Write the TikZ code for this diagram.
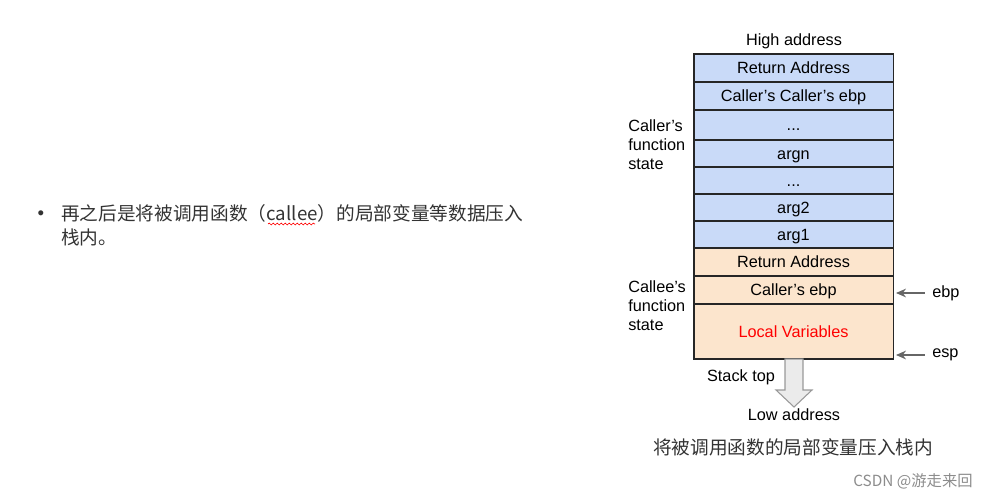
\documentclass[tikz,border=0pt]{standalone}
\usepackage{fontspec}
\setmainfont{Liberation Sans}
\newfontfamily\cjk{Noto Sans CJK SC}
\usetikzlibrary{arrows.meta,decorations.pathmorphing}

\definecolor{callerblue}{HTML}{C9DAF8}
\definecolor{calleeorange}{HTML}{FCE5CD}
\definecolor{textgray}{HTML}{333333}
\definecolor{arrowgray}{HTML}{666666}
\newcommand{\stackdots}{...}

\tikzset{
  cell/.style={draw=black!85, line width=1.1pt, inner sep=0pt,
    text height=8.7pt, text depth=0pt,
    minimum width=149.6pt, font=\fontsize{12.2pt}{14pt}\selectfont},
  lbl/.style={inner sep=0pt, font=\fontsize{12.2pt}{14.3pt}\selectfont},
  side/.style={lbl, anchor=west, align=left},
  ptr/.style={draw=arrowgray, line width=1.1pt, -{Stealth[length=7.5pt,width=6.5pt]}}
}

\begin{document}
\begin{tikzpicture}[x=0.75pt, y=-0.75pt]
\useasboundingbox (0,0) rectangle (987,499);

%% 左边的文字
\node[inner sep=0pt, text=textgray, font=\fontsize{14pt}{17pt}\selectfont] (dot) at (41,215) {•};
\node[anchor=north west, inner sep=0pt, align=left, text=textgray,
  font=\cjk\fontsize{14pt}{18pt}\selectfont] (note) at (61,204)
  {再之后是将被调用函数（callee）的局部变量等数据压入\\栈内。};
\draw[red, line width=0.5pt, decorate,
  decoration={snake, amplitude=0.7pt, segment length=3pt}] (268,224) -- (315,224);

%% 栈: 上下边界(像素) / 文字 / 颜色 / 名称
\foreach \t/\b/\txt/\c/\n in {
  54/82/Return Address/callerblue/ra1,
  82/110/Caller’s Caller’s ebp/callerblue/cce,
  110/140/\stackdots/callerblue/dotsa,
  140/167/argn/callerblue/argn,
  167/194/\stackdots/callerblue/dotsb,
  194/221/arg2/callerblue/argtwo,
  221/248/arg1/callerblue/argone,
  248/276/Return Address/calleeorange/ra2,
  276/304/Caller’s ebp/calleeorange/ebprow,
  304/359/{\textcolor{red}{Local Variables}}/calleeorange/locals}
  \node[cell, fill=\c, minimum height={(\b-\t)*0.75pt}] (\n) at (793.5,{(\t+\b)/2}) {\txt};

\node[lbl] (high) at (794,41) {High address};

%% 两段函数状态
\node[side] (caller) at (628,145) {Caller’s\\function\\state};
\node[side] (callee) at (628,306) {Callee’s\\function\\state};

%% ebp, esp 指针
\node[lbl, anchor=west] (ebp) at (932,293) {ebp};
\node[lbl, anchor=west] (esp) at (932,355) {esp};
\draw[ptr] ([xshift=-5.5pt]ebp.west) -- ([xshift=1.5pt]ebp.west -| ebprow.east);
\draw[ptr] ([xshift=-5.5pt]esp.west) -- ([xshift=1.5pt]esp.west -| locals.east);

%% 向下的空心箭头
\draw[draw=black!40, fill=black!8, line width=0.8pt]
  (785,359) -- (803,359) -- (803,390) -- (812,390) -- (794,407)
  -- (776,390) -- (785,390) -- cycle;
\node[lbl] (stacktop) at (741,377) {Stack top};
\node[lbl] (low) at (794,415) {Low address};

\node[inner sep=0pt, text=textgray, font=\cjk\fontsize{14pt}{17pt}\selectfont]
  (caption) at (793,447) {将被调用函数的局部变量压入栈内};

\node[anchor=east, inner sep=0pt, text=black!45, font=\cjk\fontsize{11.5pt}{14pt}\selectfont]
  (mark) at (973,481) {CSDN @游走来回};
\end{tikzpicture}
\end{document}
